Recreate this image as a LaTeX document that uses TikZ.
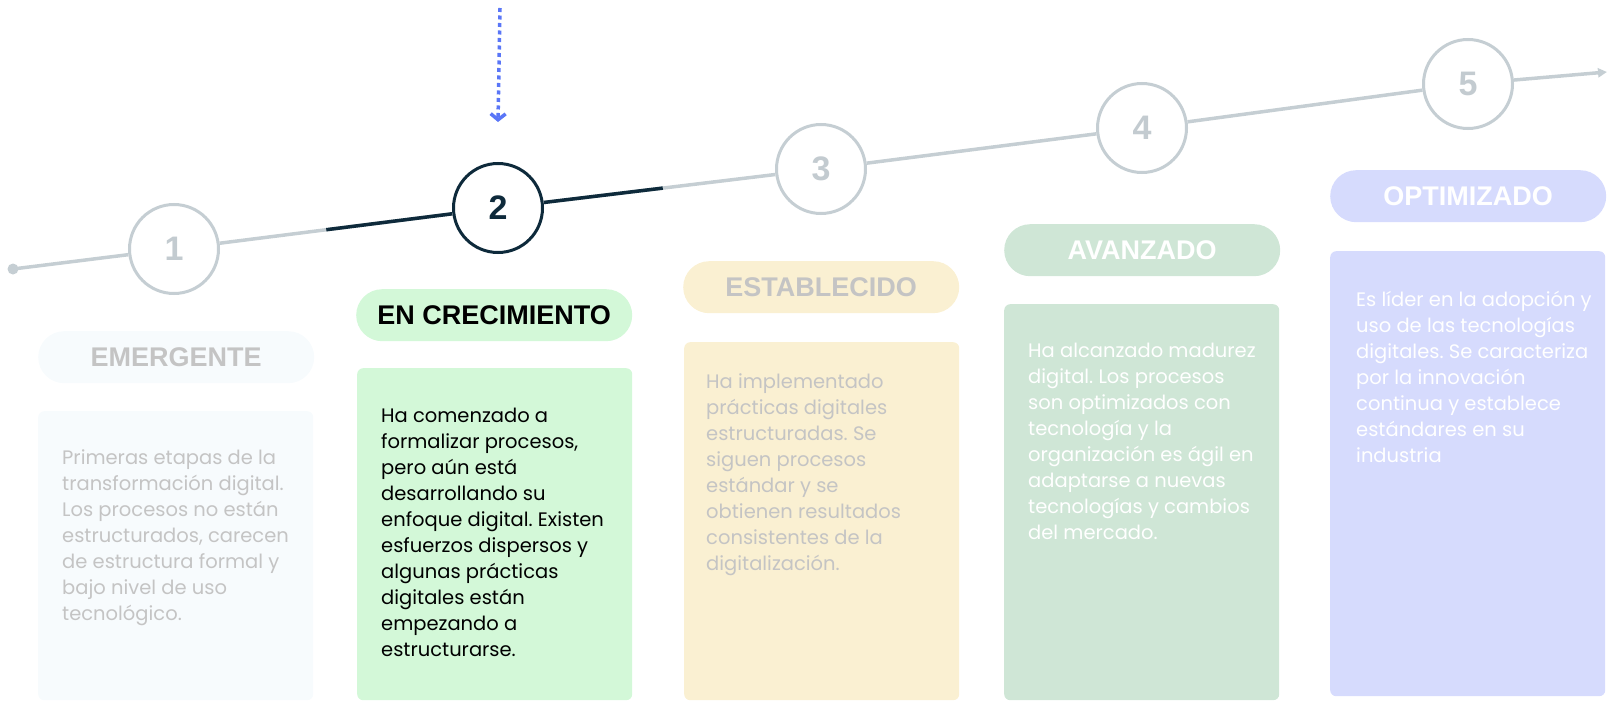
\documentclass[tikz,border=0pt]{standalone}
\usepackage{fontspec}
\setmainfont{Poppins}
\newfontfamily\headfont{Liberation Sans}
\usetikzlibrary{arrows.meta,calc}

\definecolor{lineagris}{HTML}{C5CED3}
\definecolor{numgris}{HTML}{C3CBD0}
\definecolor{oscuro}{HTML}{0E2A3B}
\definecolor{azul}{HTML}{5A76F7}
\definecolor{fondouno}{HTML}{F7FBFD}
\definecolor{fondodos}{HTML}{D3F8D8}
\definecolor{fondotres}{HTML}{FAF0D2}
\definecolor{fondocuatro}{HTML}{CFE6D6}
\definecolor{fondocinco}{HTML}{D6DBFD}
\definecolor{textogris}{HTML}{C4C4C4}

\frenchspacing

\begin{document}
\begin{tikzpicture}[x=1pt,y=-1pt,
	etapa/.style={circle,draw=lineagris,line width=3pt,fill=white,minimum size=89pt,inner sep=0pt,
		text=numgris,font=\headfont\bfseries\fontsize{34}{34}\selectfont},
	nivel/.style={rounded corners=26pt,minimum width=276pt,minimum height=52pt,anchor=north west,inner sep=0pt,
		font=\headfont\bfseries\fontsize{27}{27}\selectfont},
	tarjeta/.style={rounded corners=6pt,minimum width=275pt,anchor=north west,inner sep=0pt},
	texto/.style={anchor=north west,align=left,inner sep=0pt,font=\fontsize{19.5}{26}\selectfont},
	linea/.style={draw=lineagris,line width=3.5pt},
	]
	
	\useasboundingbox (0,0) rectangle (1620,709);
	
	% etapas
	\node[etapa] (c1) at (174,249) {1};
	\node[etapa,draw=oscuro,text=oscuro] (c2) at (498,208) {2};
	\node[etapa] (c3) at (821,169) {3};
	\node[etapa] (c4) at (1142,128) {4};
	\node[etapa] (c5) at (1468,84) {5};
	
	\coordinate (inicio) at (13,269);
	\coordinate (fin) at (1607,72);
	\coordinate (arriba) at (500,8);
	
	\fill[lineagris] (inicio) circle (5.5pt);
	\draw[linea] (inicio) -- (c1);
	\draw[linea] (c1) -- (c2);
	\draw[linea] (c2) -- (c3);
	\draw[linea] (c3) -- (c4);
	\draw[linea] (c4) -- (c5);
	\draw[linea,-{Triangle[length=9pt,width=9pt]}] (c5) -- (fin);
	
	\draw[oscuro,line width=3.5pt] ($(c1)!.47!(c2)$) -- (c2);
	\draw[oscuro,line width=3.5pt] (c2) -- ($(c2)!.51!(c3)$);
	
	\draw[azul,line width=3.5pt,dash pattern=on 4pt off 3.5pt,-{Straight Barb[length=6pt,width=15pt]}] (arriba) -- ([yshift=40pt]c2.north);
	
	% niveles
	\node[nivel,fill=fondouno,text=textogris] (n1) at (38,331) {EMERGENTE};
	\node[nivel,fill=fondodos,text=black] (n2) at (356,289) {EN CRECIMIENTO};
	\node[nivel,fill=fondotres,text=textogris] (n3) at (683,261) {ESTABLECIDO};
	\node[nivel,fill=fondocuatro,text=white] (n4) at (1004,224) {AVANZADO};
	\node[nivel,fill=fondocinco,text=white] (n5) at (1330,170) {OPTIMIZADO};
	
	% tarjetas
	\node[tarjeta,fill=fondouno,minimum height=289pt] (k1) at (38,411) {};
	\node[tarjeta,fill=fondodos,minimum height=332pt] (k2) at (357,368) {};
	\node[tarjeta,fill=fondotres,minimum height=358pt] (k3) at (684,342) {};
	\node[tarjeta,fill=fondocuatro,minimum height=396pt] (k4) at (1004,304) {};
	\node[tarjeta,fill=fondocinco,minimum height=445pt] (k5) at (1330,251) {};
	
	\node[texto,text=textogris] (t1) at (62,449) {Primeras etapas de la\\transformación digital.\\Los procesos no están\\estructurados, carecen\\de estructura formal y\\bajo nivel de uso\\tecnológico.};
	\node[texto,text=black] (t2) at (381,408) {Ha comenzado a\\formalizar procesos,\\pero aún está\\desarrollando su\\enfoque digital. Existen\\esfuerzos dispersos y\\algunas prácticas\\digitales están\\empezando a\\estructurarse.};
	\node[texto,text=textogris] (t3) at (706,373) {Ha implementado\\prácticas digitales\\estructuradas. Se\\siguen procesos\\estándar y se\\obtienen resultados\\consistentes de la\\digitalización.};
	\node[texto,text=white] (t4) at (1028,343) {Ha alcanzado madurez\\digital. Los procesos\\son optimizados con\\tecnología y la\\organización es ágil en\\adaptarse a nuevas\\tecnologías y cambios\\del mercado.};
	\node[texto,text=white] (t5) at (1356,291) {Es líder en la adopción y\\uso de las tecnologías\\digitales. Se caracteriza\\por la innovación\\continua y establece\\estándares en su\\industria};
	
\end{tikzpicture}
\end{document}
